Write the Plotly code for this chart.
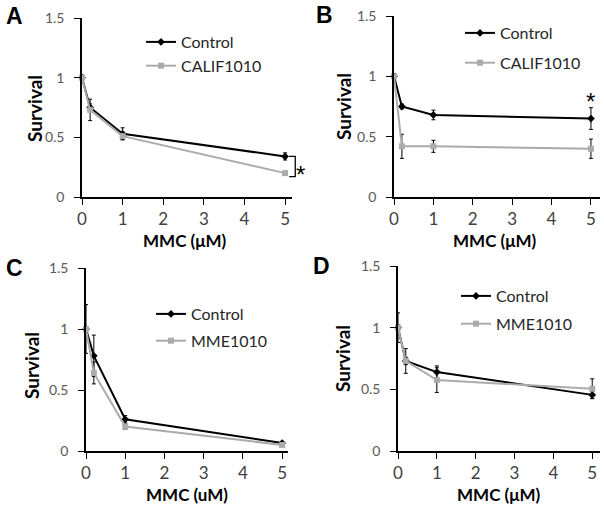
import plotly.graph_objects as go

W, H = 604, 508

# ---------------- data ----------------
dose = [0, 0.2, 1, 5]

a_ctrl = [1.0, 0.75, 0.53, 0.34]
a_ctrl_err = [0.02, 0.03, 0.05, 0.03]
a_calif = [1.0, 0.73, 0.51, 0.20]
a_calif_err = [0.02, 0.09, 0.03, 0.01]

b_ctrl = [1.0, 0.75, 0.68, 0.65]
b_ctrl_err = [0.02, 0.02, 0.04, 0.09]
b_calif = [1.0, 0.42, 0.42, 0.40]
b_calif_err = [0.02, 0.10, 0.05, 0.08]

c_ctrl = [1.0, 0.78, 0.26, 0.065]
c_ctrl_err = [0.20, 0.17, 0.03, 0.01]
c_mme = [1.0, 0.64, 0.20, 0.05]
c_mme_err = [0.02, 0.09, 0.02, 0.01]

d_ctrl = [1.0, 0.73, 0.64, 0.455]
d_ctrl_err = [0.12, 0.03, 0.05, 0.03]
d_mme = [1.0, 0.73, 0.575, 0.505]
d_mme_err = [0.02, 0.10, 0.10, 0.08]

y_ticks = [0, 0.5, 1, 1.5]
y_ticktext = ["0", "0.5", "1", "1.5"]
x_ticks = [0, 1, 2, 3, 4, 5]

panels = [
    ("A", a_ctrl, a_ctrl_err, a_calif, a_calif_err, "CALIF1010", "MMC (μM)"),
    ("B", b_ctrl, b_ctrl_err, b_calif, b_calif_err, "CALIF1010", "MMC (μM)"),
    ("C", c_ctrl, c_ctrl_err, c_mme, c_mme_err, "MME1010", "MMC (uM)"),
    ("D", d_ctrl, d_ctrl_err, d_mme, d_mme_err, "MME1010", "MMC (μM)"),
]

# ---------------- layout geometry (pixels) ----------------
def px(x):
    return x / W

def py(y):
    return 1 - y / H

geom = [
    dict(x0=82, x1=292, xmax=5.17, yb=197, yt=18),
    dict(x0=394, x1=600, xmax=5.23, yb=197, yt=16),
    dict(x0=86, x1=288, xmax=5.15, yb=451, yt=268),
    dict(x0=398, x1=600, xmax=5.20, yb=451, yt=266),
]
letter_pos = [(15, 16), (324, 15), (14, 268), (322, 266)]
ytitle_pos = [(34, 109), (344, 107), (31, 366), (342, 359)]
xtitle_pos = [(185, 240), (495, 240), (187, 494), (499, 494)]
# legend left, top, gap between the two entries
legend_pos = [(141, 25, 0), (460, 16, 6), (151, 297, 3), (456, 279, 4)]

BLACK = "#000000"
GRAY = "#ababab"
FONT = "Lato"

fig = go.Figure()
annotations = []
shapes = []

def ann(text, x, y, size, family=FONT, angle=0):
    return dict(text=text, x=x, y=y, xref="paper", yref="paper", showarrow=False,
                xanchor="center", yanchor="middle", textangle=angle,
                font=dict(family=family, size=size, color=BLACK))

for i, (letter, ctrl, ctrl_err, trt, trt_err, trt_name, xlab) in enumerate(panels):
    n = "" if i == 0 else str(i + 1)
    g = geom[i]
    leg = "legend" if i == 0 else f"legend{i + 1}"
    fig.add_trace(go.Scatter(
        x=dose, y=ctrl, name="Control", mode="lines+markers",
        xaxis=f"x{n}", yaxis=f"y{n}", legend=leg, legendgroup=f"c{i}",
        line=dict(color=BLACK, width=2),
        marker=dict(symbol="diamond", size=6, color=BLACK),
        error_y=dict(type="data", array=ctrl_err, color=BLACK, thickness=1, width=2),
        cliponaxis=False,
    ))
    fig.add_trace(go.Scatter(
        x=dose, y=trt, name=trt_name, mode="lines+markers",
        xaxis=f"x{n}", yaxis=f"y{n}", legend=leg, legendgroup=f"t{i}",
        line=dict(color=GRAY, width=2),
        marker=dict(symbol="square", size=6, color=GRAY),
        error_y=dict(type="data", array=trt_err, color=BLACK, thickness=1, width=2),
        cliponaxis=False,
    ))

    axis_common = dict(showline=True, linecolor=BLACK, linewidth=1.5,
                       ticks="outside", ticklen=6, tickwidth=1.3, tickcolor=BLACK,
                       showgrid=False, zeroline=False, fixedrange=True,
                       automargin=False)
    fig.update_layout(**{
        f"xaxis{n}": dict(axis_common, domain=[px(g["x0"]), px(g["x1"])],
                          range=[0, g["xmax"]], tickvals=x_ticks,
                          anchor=f"y{n}",
                          tickfont=dict(family=FONT, size=17, color="#404040")),
        f"yaxis{n}": dict(axis_common, domain=[py(g["yb"]), py(g["yt"])],
                          range=[0, 1.5], tickvals=y_ticks, ticktext=y_ticktext,
                          anchor=f"x{n}", ticklabelstandoff=7,
                          tickfont=dict(family=FONT, size=14, color="#595959")),
    })

    lx, ly, gap = legend_pos[i]
    fig.update_layout(**{leg: dict(
        x=px(lx), y=py(ly), xref="paper", yref="paper",
        xanchor="left", yanchor="top",
        bgcolor="rgba(0,0,0,0)", borderwidth=0,
        font=dict(family=FONT, size=16, color="#262626"),
        itemwidth=30, tracegroupgap=gap, traceorder="grouped",
    )})

    lxp, lyp = letter_pos[i]
    annotations.append(ann(f"<b>{letter}</b>", px(lxp), py(lyp), 23, "Liberation Sans"))
    tx, ty = ytitle_pos[i]
    annotations.append(ann("<b>Survival</b>", px(tx), py(ty), 19, angle=-90))
    tx, ty = xtitle_pos[i]
    annotations.append(ann(f"<b>{xlab}</b>", px(tx), py(ty), 17))

def data_to_paper(i, xv, yv):
    g = geom[i]
    xp = g["x0"] + (g["x1"] - g["x0"]) * xv / g["xmax"]
    yp = g["yb"] - (g["yb"] - g["yt"]) * yv / 1.5
    return px(xp), py(yp)

# Panel A bracket between the two series at 5 uM
bx_in, by_top = data_to_paper(0, 5.1, a_ctrl[3])
bx_out, by_bot = data_to_paper(0, 5.25, a_calif[3] - 0.03)
shapes.append(dict(type="path", xref="paper", yref="paper",
                   path=f"M{bx_in},{by_top} L{bx_out},{by_top} L{bx_out},{by_bot} L{bx_in},{by_bot}",
                   line=dict(color=BLACK, width=1.3)))
sx, sy = data_to_paper(0, 5.37, 0.19)
annotations.append(ann("*", sx, sy, 24, "Liberation Sans"))
# Panel B asterisk above 5 uM
sx, sy = data_to_paper(1, 5, b_ctrl[3] + b_ctrl_err[3] + 0.05)
annotations.append(ann("*", sx, sy, 24, "Liberation Sans"))

fig.update_layout(
    template="none",
    width=W, height=H, margin=dict(l=0, r=0, t=0, b=0, pad=0, autoexpand=False),
    paper_bgcolor="white", plot_bgcolor="white",
    showlegend=True, annotations=annotations, shapes=shapes,
)

fig.write_html("out.html", config={"displayModeBar": False},
               post_script="document.body.style.margin='0';")
